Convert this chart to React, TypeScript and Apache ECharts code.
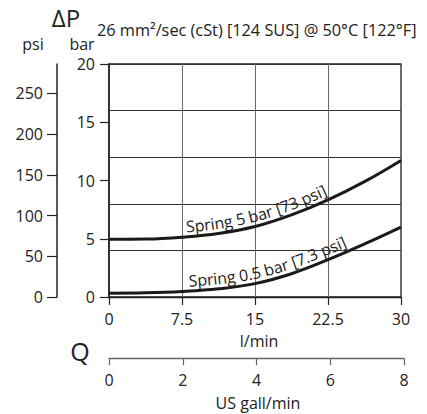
import React, { useEffect, useRef } from "react";
import * as echarts from "echarts";

// ---- data ----
const flowLpm = [0, 3.75, 7.5, 11.25, 15, 18.75, 22.5, 26.25, 30];
const spring5Bar = [4.95, 4.97, 5.13, 5.45, 6.05, 7.05, 8.34, 9.9, 11.72];
const spring05Bar = [0.33, 0.36, 0.47, 0.7, 1.15, 2.0, 3.2, 4.55, 6.0];
const psiTicks = [0, 50, 100, 150, 200, 250];
const psiMax = 286;
const galMax = 8;
const curveLabels = ["Spring 5 bar [73 psi]", "Spring 0.5 bar [7.3 psi]"];
const curveLabelStart = [7.9, 8.2];
const titleText = "26 mm²/sec (cSt) [124 SUS] @ 50°C [122°F]";

const FONT = "'Open Sans', 'Noto Sans', sans-serif";
const INK = "#222";

function textOnCurve(
  chart: any,
  text: string,
  xs: number[],
  ys: number[],
  startX: number,
  offset: number,
  fontSize: number
) {
  const pts: number[][] = xs.map((x, i) =>
    chart.convertToPixel({ xAxisIndex: 0, yAxisIndex: 0 }, [x, ys[i]])
  );
  const samp: number[][] = [];
  for (let i = 0; i < pts.length - 1; i++) {
    const p0 = pts[Math.max(i - 1, 0)];
    const p1 = pts[i];
    const p2 = pts[i + 1];
    const p3 = pts[Math.min(i + 2, pts.length - 1)];
    for (let k = 0; k < 30; k++) {
      const t = k / 30;
      const t2 = t * t;
      const t3 = t2 * t;
      const f = (a: number, b: number, c: number, d: number) =>
        0.5 * (2 * b + (-a + c) * t + (2 * a - 5 * b + 4 * c - d) * t2 + (-a + 3 * b - 3 * c + d) * t3);
      samp.push([f(p0[0], p1[0], p2[0], p3[0]), f(p0[1], p1[1], p2[1], p3[1])]);
    }
  }
  samp.push(pts[pts.length - 1]);
  const cum = [0];
  for (let i = 1; i < samp.length; i++) {
    cum.push(cum[i - 1] + Math.hypot(samp[i][0] - samp[i - 1][0], samp[i][1] - samp[i - 1][1]));
  }
  const startPx = chart.convertToPixel({ xAxisIndex: 0, yAxisIndex: 0 }, [startX, 0])[0];
  let s0 = 0;
  for (let i = 0; i < samp.length; i++) {
    if (samp[i][0] >= startPx) {
      s0 = cum[i];
      break;
    }
  }
  const at = (s: number) => {
    let i = 1;
    while (i < samp.length - 1 && cum[i] < s) i++;
    const a = samp[i - 1];
    const b = samp[i];
    const seg = cum[i] - cum[i - 1] || 1;
    const u = Math.min(Math.max((s - cum[i - 1]) / seg, 0), 1);
    const tx = (b[0] - a[0]) / seg;
    const ty = (b[1] - a[1]) / seg;
    return { x: a[0] + (b[0] - a[0]) * u, y: a[1] + (b[1] - a[1]) * u, tx, ty };
  };
  const ctx = document.createElement("canvas").getContext("2d") as CanvasRenderingContext2D;
  ctx.font = `${fontSize}px 'Open Sans'`;
  const els: any[] = [];
  let s = s0;
  for (const ch of text) {
    const w = ctx.measureText(ch).width;
    const p = at(s + w / 2);
    const nx = p.ty;
    const ny = -p.tx;
    els.push({
      type: "text",
      x: p.x + nx * offset,
      y: p.y + ny * offset,
      rotation: -Math.atan2(p.ty, p.tx),
      silent: true,
      style: {
        text: ch,
        fontSize,
        fontFamily: FONT,
        fill: INK,
        align: "center",
        verticalAlign: "middle",
        lineHeight: fontSize,
      },
    });
    s += w;
  }
  return els;
}

export default function App() {
  const ref = useRef<HTMLDivElement>(null);
  useEffect(() => {
    if (!ref.current) return;
    const chart = echarts.init(ref.current, undefined, { renderer: "svg" });
    const labelStyle = { fontSize: 16, fontFamily: FONT, color: INK, lineHeight: 16 };
    chart.setOption({
      animation: false,
      backgroundColor: "#fff",
      grid: [
        { left: 109, top: 64, width: 292, height: 233, show: true, borderColor: INK, borderWidth: 1.3 },
        { left: 109, top: 300, width: 295, height: 58.3 },
      ],
      xAxis: [
        {
          type: "value",
          gridIndex: 0,
          min: 0,
          max: 30,
          interval: 7.5,
          axisLine: { show: true, lineStyle: { color: INK, width: 1.4 } },
          axisTick: { show: true, length: 8, lineStyle: { color: INK, width: 1.2 } },
          axisLabel: { ...labelStyle, margin: 14 },
          splitLine: { show: true, lineStyle: { color: "#6a6a6a", width: 1 } },
        },
        {
          type: "value",
          gridIndex: 1,
          min: 0,
          max: galMax,
          interval: 2,
          axisLine: { show: true, lineStyle: { color: "#666", width: 1.3 } },
          axisTick: { show: true, length: 7, lineStyle: { color: "#666", width: 1.2 } },
          axisLabel: { ...labelStyle, margin: 14 },
          splitLine: { show: false },
        },
      ],
      yAxis: [
        {
          type: "value",
          gridIndex: 0,
          min: 0,
          max: 20,
          interval: 5,
          axisLine: { show: true, lineStyle: { color: INK, width: 1.5 } },
          axisTick: { show: true, length: 9, lineStyle: { color: INK, width: 1.2 } },
          axisLabel: { ...labelStyle, margin: 14 },
          splitLine: { show: false },
        },
        {
          type: "value",
          gridIndex: 0,
          min: 0,
          max: 20,
          interval: 4,
          axisLine: { show: false },
          axisTick: { show: false },
          axisLabel: { show: false },
          splitLine: { show: true, lineStyle: { color: "#333", width: 1 } },
        },
        {
          type: "value",
          gridIndex: 0,
          position: "left",
          offset: 52,
          min: 0,
          max: psiMax,
          axisLine: { show: true, lineStyle: { color: INK, width: 1.5 } },
          axisTick: { show: true, length: 10, customValues: psiTicks, lineStyle: { color: INK, width: 1.2 } },
          axisLabel: { ...labelStyle, margin: 14, customValues: psiTicks },
          splitLine: { show: false },
        },
        { type: "value", gridIndex: 1, min: 0, max: 1, show: false },
      ],
      series: [
        {
          type: "line",
          xAxisIndex: 0,
          yAxisIndex: 0,
          data: flowLpm.map((x, i) => [x, spring5Bar[i]]),
          smooth: 0.4,
          symbol: "none",
          lineStyle: { color: "#1a1a1a", width: 3 },
          z: 5,
        },
        {
          type: "line",
          xAxisIndex: 0,
          yAxisIndex: 0,
          data: flowLpm.map((x, i) => [x, spring05Bar[i]]),
          smooth: 0.4,
          symbol: "none",
          lineStyle: { color: "#1a1a1a", width: 3 },
          z: 5,
        },
      ],
    });

    const txt = (text: string, x: number, y: number, fontSize: number, align = "center") => ({
      type: "text",
      x,
      y,
      silent: true,
      style: {
        text,
        fontSize,
        fontFamily: FONT,
        fill: INK,
        align,
        verticalAlign: "middle",
        lineHeight: fontSize,
      },
    });

    const elements: any[] = [
      txt("ΔP", 66, 17, 24),
      txt("psi", 33, 44, 16),
      txt("bar", 82, 44, 16),
      txt(titleText, 97, 30, 16.3, "left"),
      txt("l/min", 259, 341, 16),
      txt("Q", 80, 351, 25),
      txt("US gall/min", 258, 403, 16),
      ...textOnCurve(chart, curveLabels[0], flowLpm, spring5Bar, curveLabelStart[0], 10.5, 16),
      ...textOnCurve(chart, curveLabels[1], flowLpm, spring05Bar, curveLabelStart[1], 10.5, 16),
    ];
    chart.setOption({ graphic: { elements } });

    return () => chart.dispose();
  }, []);
  return (
    <div
      ref={ref}
      style={{ position: "absolute", left: 0, top: 0, width: 427, height: 414, background: "#fff" }}
    />
  );
}
